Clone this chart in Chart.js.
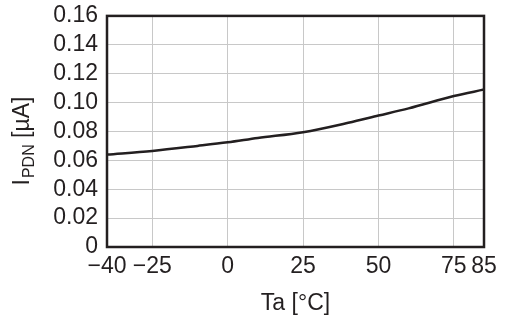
<!DOCTYPE html>
<html>
<head>
<meta charset="utf-8">
<script src="https://cdn.jsdelivr.net/npm/chart.js@4.4.1/dist/chart.umd.min.js"></script>
<style>
  html, body { margin: 0; padding: 0; background: #fff; }
  #wrap { width: 508px; height: 319px; }
</style>
</head>
<body>
<div id="wrap"><canvas id="chart"></canvas></div>
<script>
// data
var temps = [-40, -25, -10, 0, 10, 25, 40, 50, 60, 75, 85];
var ipdn = [0.064, 0.0665, 0.0700, 0.0725, 0.0755, 0.0795, 0.0860, 0.0910, 0.0960, 0.1045, 0.1090];
var xTicks = [-40, -25, 0, 25, 50, 75, 85];
var yMin = 0, yMax = 0.16, yStep = 0.02;

var ink = '#231f20';
var font = 'Liberation Sans, Arial, sans-serif';

var points = [];
for (var i = 0; i < temps.length; i++) {
  points.push({ x: temps[i], y: ipdn[i] });
}

// frame around plot + y title with subscript
var framePlugin = {
  id: 'frame',
  afterDraw: function(chart) {
    var ctx = chart.ctx;
    var a = chart.chartArea;
    ctx.save();
    ctx.strokeStyle = ink;
    ctx.lineWidth = 2.5;
    ctx.strokeRect(a.left, a.top, a.right - a.left, a.bottom - a.top);

    // y axis title: I_PDN [µA]
    ctx.fillStyle = ink;
    ctx.translate(29, 141);
    ctx.rotate(-Math.PI / 2);
    ctx.textBaseline = 'alphabetic';
    ctx.textAlign = 'left';
    var big = '23px ' + font, small = '16px ' + font;
    ctx.font = big;
    var w1 = ctx.measureText('I').width + 1;
    var w3 = ctx.measureText(' [\u00b5A]').width;
    ctx.font = small;
    var w2 = ctx.measureText('PDN').width;
    var x0 = -(w1 + w2 + w3) / 2;
    ctx.font = big;
    ctx.fillText('I', x0, 0);
    ctx.font = small;
    ctx.fillText('PDN', x0 + w1, 5);
    ctx.font = big;
    ctx.fillText(' [\u00b5A]', x0 + w1 + w2, 0);
    ctx.restore();
  }
};

new Chart(document.getElementById('chart'), {
  type: 'line',
  data: {
    datasets: [{
      data: points,
      borderColor: ink,
      borderWidth: 2.5,
      pointRadius: 0,
      fill: false,
      tension: 0.4,
      cubicInterpolationMode: 'monotone'
    }]
  },
  options: {
    responsive: true,
    maintainAspectRatio: false,
    animation: false,
    layout: { padding: { top: 15, right: 24, left: 0, bottom: 0 } },
    plugins: { legend: { display: false }, tooltip: { enabled: false } },
    scales: {
      x: {
        type: 'linear',
        min: -40,
        max: 85,
        afterBuildTicks: function(scale) {
          scale.ticks = xTicks.map(function(v) { return { value: v }; });
        },
        afterFit: function(scale) { scale.height = 72; },
        grid: { color: '#c8c8c8', lineWidth: 1, drawTicks: false },
        border: { display: false },
        ticks: {
          autoSkip: false,
          maxRotation: 0,
          padding: 6,
          color: ink,
          font: { family: font, size: 23 },
          callback: function(v) { return v < 0 ? '\u2212' + Math.abs(v) : String(v); }
        },
        title: {
          display: true,
          text: 'Ta [\u00b0C]',
          color: ink,
          font: { family: font, size: 23 },
          padding: { top: 2, bottom: 2 }
        }
      },
      y: {
        min: yMin,
        max: yMax,
        afterFit: function(scale) { scale.width = 107; },
        grid: { color: '#c8c8c8', lineWidth: 1, drawTicks: false },
        border: { display: false },
        ticks: {
          autoSkip: false,
          stepSize: yStep,
          padding: 9,
          color: ink,
          font: { family: font, size: 23, lineHeight: 0.6 },
          callback: function(v) { return v === 0 ? '0' : v.toFixed(2); }
        }
      }
    }
  },
  plugins: [framePlugin]
});
</script>
</body>
</html>
